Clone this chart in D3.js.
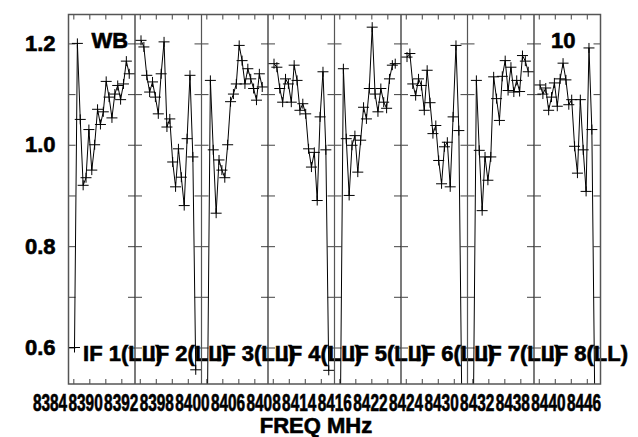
<!DOCTYPE html>
<html><head><meta charset="utf-8">
<script src="https://cdn.jsdelivr.net/npm/d3@7"></script>
<style>
html,body{margin:0;padding:0;background:#fff;}
svg{display:block;font-family:"Liberation Sans",Arial,sans-serif;font-weight:bold;}
svg text{stroke:#000;stroke-width:0.6px;}
</style>
</head><body>
<svg id="chart" width="638" height="437"></svg>
<script>
// ---------------- data ----------------
const ifNames = ["IF 1(LL)","IF 2(LL)","IF 3(LL)","IF 4(LL)","IF 5(LL)","IF 6(LL)","IF 7(LL)","IF 8(LL)"];
const ifStartMHz = [8384, 8392, 8400, 8408, 8416, 8424, 8432, 8440];
const chanOffsetMHz = 0.15;   // first channel relative to IF start
const chanStepMHz = 0.36;     // channel spacing

const amp1 = [0.60,1.20,1.05,0.92,0.935,1.03,0.95,1.00,1.07,1.04,1.065,1.125,1.094,1.053,1.10,1.117,1.089,1.12,1.165,1.14];
const amp2 = [1.206,1.193,1.137,1.104,1.124,1.094,1.061,1.14,1.203,1.035,1.051,0.966,0.917,0.992,0.936,0.88,1.012,1.137,0.976,0.556];
const amp3 = [0.50,1.127,0.99,0.865,0.97,0.95,0.935,1.0,1.085,1.10,1.12,1.196,1.166,1.12,1.15,1.13,1.111,1.088,1.14,1.114];
const amp4 = [1.16,1.153,1.111,1.084,1.13,1.12,1.084,1.157,1.127,1.068,1.081,1.061,0.992,0.956,0.985,0.89,1.055,1.144,0.99,0.555];
const amp5 = [0.50,1.15,1.012,0.90,0.999,1.018,0.946,1.009,1.074,1.051,1.111,1.232,1.10,1.065,1.111,1.084,1.072,1.13,1.157,1.16];
const amp6 = [1.173,1.18,1.12,1.097,1.13,1.117,1.068,1.147,1.083,1.022,1.038,0.969,0.923,0.996,1.005,0.917,1.055,1.196,1.028,0.50];
const amp7 = [0.50,1.127,0.989,0.87,0.976,0.93,0.976,1.134,1.091,1.048,1.135,1.166,1.107,1.153,1.104,1.127,1.105,1.176,1.165,1.144];
const amp8 = [1.118,1.10,1.112,1.068,1.094,1.122,1.076,1.13,1.161,1.128,1.079,1.089,0.997,0.944,1.089,0.99,0.908,1.191,1.03,0.50];
const series = [amp1,amp2,amp3,amp4,amp5,amp6,amp7,amp8];

const yTickValues = [0.6,0.7,0.8,0.9,1.0,1.1,1.2];
const yLabelValues = [0.6,0.8,1.0,1.2];
const freqTickSteps = [0,2,4,6];
const freqTickLabels = ["8384","8390","8392","8398","8400","8406","8408","8414",
                        "8416","8422","8424","8430","8432","8438","8440","8446"];
const sourceLabel = "WB";
const plotNumber = "10";
const xTitle = "FREQ MHz";

// ---------------- layout ----------------
const L = 68.5, R = 600.5, T = 14.5, B = 384;
const svg = d3.select("#chart");

const y = d3.scaleLinear().domain([0.528, 1.257]).range([B, T]);
const panel = d3.scaleBand().domain(ifNames).range([L, R]).paddingInner(0).paddingOuter(0);
const pw = panel.bandwidth();

svg.append("defs").append("clipPath").attr("id","plotclip")
  .append("rect").attr("x", L).attr("y", T).attr("width", R - L).attr("height", B - T);

const frameColor = "#555";

ifNames.forEach((name, i) => {
  const x0 = panel(name);
  const f0 = ifStartMHz[i];
  const fx = d3.scaleLinear().domain([f0 - 0.6, f0 + 7.71]).range([x0, x0 + pw]);
  const g = svg.append("g");

  if (i > 0) {
    g.append("line").attr("x1", x0).attr("x2", x0).attr("y1", T).attr("y2", B)
      .attr("stroke", i % 2 ? "#222" : frameColor).attr("stroke-width", 1.2);
  }

  const axL = d3.axisRight(y).tickValues(yTickValues).tickSize(7).tickFormat("");
  const gl = g.append("g").attr("transform", `translate(${x0},0)`).call(axL);
  gl.select(".domain").remove();
  gl.selectAll("line").attr("stroke", frameColor).attr("stroke-width", 1.1);
  const axR = d3.axisLeft(y).tickValues(yTickValues).tickSize(7).tickFormat("");
  const gr = g.append("g").attr("transform", `translate(${x0 + pw},0)`).call(axR);
  gr.select(".domain").remove();
  gr.selectAll("line").attr("stroke", frameColor).attr("stroke-width", 1.1);

  const ftv = freqTickSteps.map(s => f0 + s);
  const axB = d3.axisTop(fx).tickValues(ftv).tickSize(5).tickFormat("");
  const gb = g.append("g").attr("transform", `translate(0,${B})`).call(axB);
  gb.select(".domain").remove();
  gb.selectAll("line").attr("stroke", frameColor).attr("stroke-width", 1.1);
  const axT = d3.axisBottom(fx).tickValues(ftv).tickSize(5).tickFormat("");
  const gt = g.append("g").attr("transform", `translate(0,${T})`).call(axT);
  gt.select(".domain").remove();
  gt.selectAll("line").attr("stroke", frameColor).attr("stroke-width", 1.1);

  const data = series[i].map((v, j) => ({f: f0 + chanOffsetMHz + j * chanStepMHz, v}));
  const dg = g.append("g").attr("clip-path", "url(#plotclip)");
  const line = d3.line().x(d => fx(d.f)).y(d => y(d.v));
  dg.append("path").datum(data).attr("d", line)
    .attr("fill", "none").attr("stroke", "#000").attr("stroke-width", 1);
  dg.selectAll("path.cross").data(data).enter().append("path").attr("class","cross")
    .attr("d", d => {
      const cx = fx(d.f), cy = y(d.v);
      return `M${cx - 5.5},${cy}H${cx + 5.5}M${cx},${cy - 5}V${cy + 5}`;
    })
    .attr("stroke", "#000").attr("stroke-width", 1).attr("fill", "none");

  g.append("text").attr("x", x0 + 14.6).attr("y", 361)
    .attr("font-size", 22).attr("fill", "#000").text(name);
});

svg.append("rect").attr("x", L).attr("y", T).attr("width", R - L).attr("height", B - T)
  .attr("fill", "none").attr("stroke", frameColor).attr("stroke-width", 1.5);

const yAx = d3.axisLeft(y).tickValues(yLabelValues).tickSize(0).tickPadding(13)
  .tickFormat(d3.format(".1f"));
const gy = svg.append("g").attr("transform", `translate(${L},0)`).call(yAx);
gy.select(".domain").remove();
gy.selectAll("text").attr("font-size", 22).attr("font-family", "Liberation Sans, Arial, sans-serif")
  .attr("font-weight", "bold").attr("fill", "#000");

const labelPos = d3.scalePoint().domain(freqTickLabels).range([50, 584]);
svg.append("g").selectAll("text").data(freqTickLabels).enter().append("text")
  .attr("transform", d => `translate(${labelPos(d)},411) scale(0.7,1.05)`)
  .attr("text-anchor", "middle").attr("font-size", 22).attr("fill", "#000")
  .text(d => d);

svg.append("text").attr("x", 316).attr("y", 433).attr("text-anchor", "middle")
  .attr("font-size", 22).attr("fill", "#000").text(xTitle);

svg.append("text").attr("x", 91.5).attr("y", 48.3).attr("font-size", 22).attr("fill", "#000").text(sourceLabel);
svg.append("text").attr("x", 551).attr("y", 48.3).attr("font-size", 22).attr("fill", "#000").text(plotNumber);
</script>
</body></html>
